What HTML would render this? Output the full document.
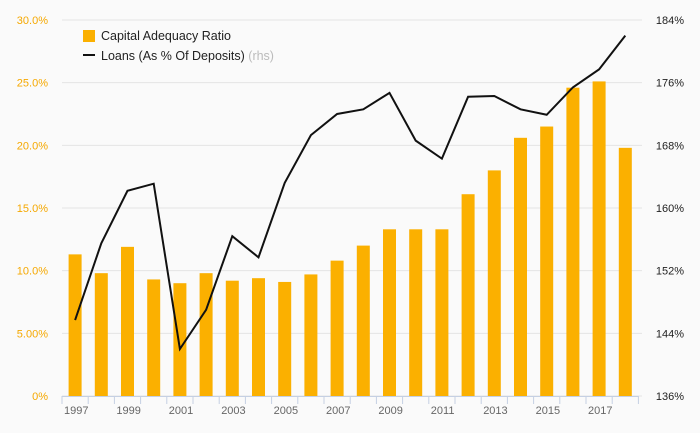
<!DOCTYPE html>
<html><head><meta charset="utf-8"><style>
body{margin:0;background:#fafafa;font-family:"Liberation Sans",sans-serif;}
svg{display:block}
</style></head><body>
<svg id="c" width="700" height="433"></svg>
<script>
const years=[1997,1998,1999,2000,2001,2002,2003,2004,2005,2006,2007,2008,2009,2010,2011,2012,2013,2014,2015,2016,2017,2018];
const car=[11.3,9.8,11.9,9.3,9.0,9.8,9.2,9.4,9.1,9.7,10.8,12.0,13.3,13.3,13.3,16.1,18.0,20.6,21.5,24.6,25.1,19.8];
const loans=[145.7,155.5,162.2,163.1,142.0,147.0,156.4,153.7,163.2,169.3,172.0,172.6,174.7,168.6,166.3,174.2,174.3,172.6,171.9,175.4,177.7,182.0];
const leftTicks=[0,5,10,15,20,25,30];
const leftLabels=["0%","5.00%","10.0%","15.0%","20.0%","25.0%","30.0%"];
const rightTicks=[136,144,152,160,168,176,184];
const x0=62,step=26.2,yTop=20,yBot=396;
const yL=v=>yBot-(v/30)*(yBot-yTop);
const yR=v=>yBot-((v-136)/48)*(yBot-yTop);
const xc=i=>x0+step*(i+0.5);
const svg=document.getElementById('c');
const NS="http://www.w3.org/2000/svg";
function mk(t,a,p){const e=document.createElementNS(NS,t);for(const k in a)e.setAttribute(k,a[k]);(p||svg).appendChild(e);return e;}
leftTicks.forEach((v,i)=>{
 const g=mk('line',{x1:x0,x2:642,y1:yL(v),y2:yL(v),stroke:'#e4e4e4','stroke-width':1});
 
 
 const t=mk('text',{x:48,y:yL(v)+4,'text-anchor':'end','font-size':11,fill:'#f5a800'});
 t.textContent=leftLabels[i];
 
 
});
rightTicks.forEach(v=>{
 const t=mk('text',{x:684,y:yR(v)+4,'text-anchor':'end','font-size':11,fill:'#222'});
 t.textContent=v+'%';
 
 
});
car.forEach((v,i)=>{
 const r=mk('rect',{x:xc(i)-6.5,y:yL(v),width:13,height:yBot-yL(v),fill:'#fbb000'});
 
 
});
const ax=mk('line',{x1:x0,x2:x0+step*22,y1:yBot+0.5,y2:yBot+0.5,stroke:'#c5d0e3'});


for(let i=0;i<=22;i++){
 const tk=mk('line',{x1:x0+step*i,x2:x0+step*i,y1:yBot,y2:yBot+8,stroke:'#c5d0e3'});
 
 
}
years.forEach((y,i)=>{ if(i%2==0){
 const t=mk('text',{x:x0+step*i+2,y:yBot+18,'font-size':11,fill:'#666'});
 t.textContent=y;
 
 
}});
const pl=mk('polyline',{points:loans.map((v,i)=>xc(i)+','+yR(v)).join(' '),fill:'none',stroke:'#111','stroke-width':2});


const lg=mk('g',{});


const s1=mk('rect',{x:83,y:30,width:12,height:12,fill:'#fbb000'},lg);


const t1=mk('text',{x:101,y:40,'font-size':12.5,fill:'#222'},lg);
t1.textContent='Capital Adequacy Ratio';


const s2=mk('line',{x1:83,x2:95,y1:55,y2:55,stroke:'#111','stroke-width':2},lg);


const t2=mk('text',{x:101,y:60,'font-size':12.5,fill:'#222'},lg);
t2.innerHTML='Loans (As % Of Deposits) <tspan fill="#bbb">(rhs)</tspan>';


</script>
</body></html>
